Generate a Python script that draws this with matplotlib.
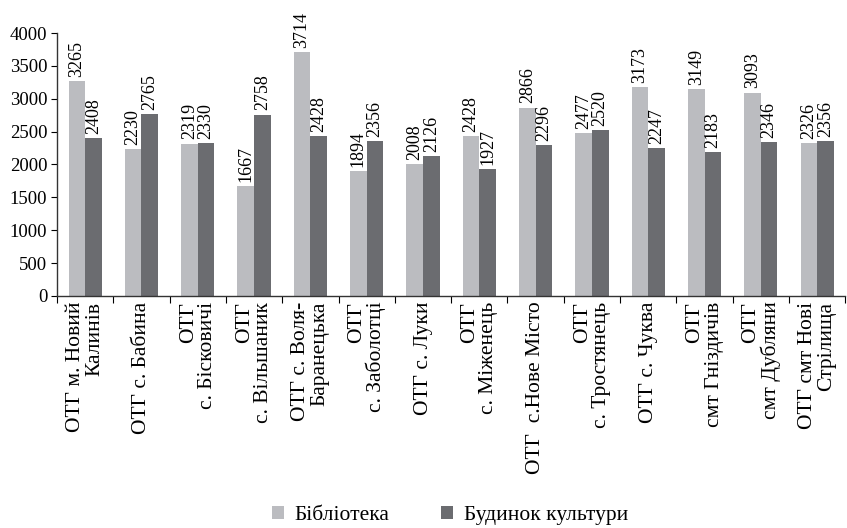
import matplotlib
matplotlib.use("Agg")
import matplotlib.pyplot as plt
import numpy as np

plt.rcParams['font.family'] = ['Liberation Serif', 'DejaVu Serif']

categories = [
    "ОТГ м. Новий\nКалинів",
    "ОТГ с. Бабина",
    "ОТГ\nс. Бісковичі",
    "ОТГ\nс. Вільшаник",
    "ОТГ с. Воля-\nБаранецька",
    "ОТГ\nс. Заболотці",
    "ОТГ с. Луки",
    "ОТГ\nс. Міженець",
    "ОТГ  с.Нове Місто",
    "ОТГ\nс. Тростянець",
    "ОТГ с. Чуква",
    "ОТГ\nсмт Гніздичів",
    "ОТГ\nсмт Дубляни",
    "ОТГ смт Нові\nСтрілища",
]
library = [3265, 2230, 2319, 1667, 3714, 1894, 2008, 2428, 2866, 2477, 3173, 3149, 3093, 2326]
culture_house = [2408, 2765, 2330, 2758, 2428, 2356, 2126, 1927, 2296, 2520, 2247, 2183, 2346, 2356]
series_names = ["Бібліотека", "Будинок культури"]
yticks = [0, 500, 1000, 1500, 2000, 2500, 3000, 3500, 4000]

c_light = "#bbbcc0"
c_dark = "#6b6c70"

fig = plt.figure(figsize=(8.47, 5.28), dpi=100)
ax = fig.add_axes([0.0673, 0.4394, 0.9307, 0.4981])

x = np.arange(len(categories))
w = 0.295
b1 = ax.bar(x - w / 2, library, w, color=c_light, label=series_names[0])
b2 = ax.bar(x + w / 2, culture_house, w, color=c_dark, label=series_names[1])

for bars in (b1, b2):
    for rect in bars:
        h = rect.get_height()
        ax.annotate(f"{int(h)}", (rect.get_x() + rect.get_width() / 2, h),
                    xytext=(0, 3), textcoords="offset points",
                    rotation=90, ha="center", va="bottom", fontsize=13)

ax.set_xlim(-0.5, len(categories) - 0.5)
ax.set_ylim(0, 4000)
ax.set_yticks(yticks)
ax.tick_params(axis="y", labelsize=13.5, length=4, direction="out", pad=3)

ax.set_xticks(np.arange(len(categories) + 1) - 0.5, minor=False)
ax.set_xticklabels([])
ax.tick_params(axis="x", length=5, direction="out")
ax.set_xticks(x, minor=True)
ax.set_xticklabels(categories, minor=True, rotation=90, fontsize=15.5,
                   ha="center", va="top", multialignment="right",
                   linespacing=1.0)
ax.tick_params(axis="x", which="minor", length=0, pad=4)

for s in ("top", "right"):
    ax.spines[s].set_visible(False)
for s in ("left", "bottom"):
    ax.spines[s].set_color("#333333")
    ax.spines[s].set_linewidth(1.0)

fig.legend(handles=[b1, b2], labels=series_names, loc="center",
           bbox_to_anchor=(0.531, 0.023), ncol=2, frameon=False,
           fontsize=15.5, handlelength=0.56, handleheight=0.56,
           columnspacing=2.4, handletextpad=0.5)

fig.savefig("out.png", dpi=100)
